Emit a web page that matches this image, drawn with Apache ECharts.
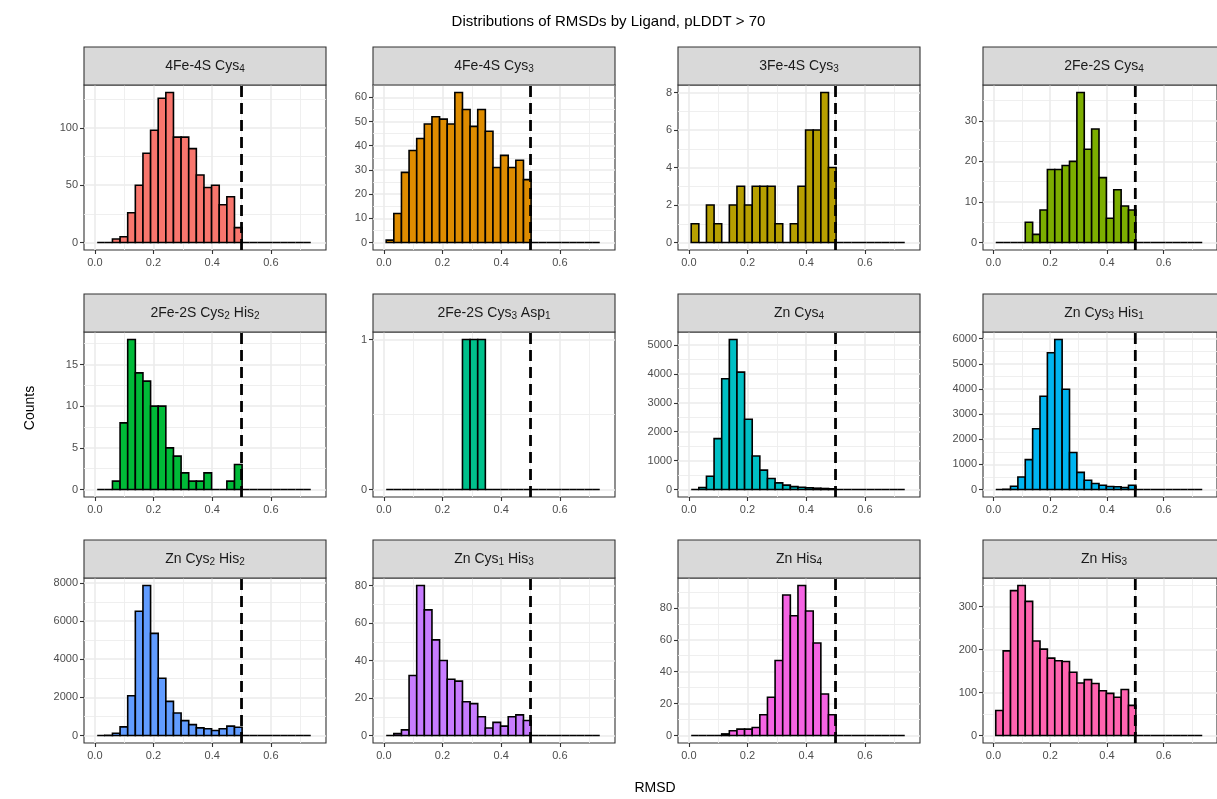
<!DOCTYPE html>
<html><head><meta charset="utf-8">
<script src="https://cdn.jsdelivr.net/npm/echarts@6/dist/echarts.min.js"></script>
<style>html,body{margin:0;padding:0;background:#fff}#chart{width:1217px;height:799px}</style>
</head><body><div id="chart"></div>
<script>
// ---- histogram binning (shared x bins, 28 bins) ----
const BIN_START = 0.008;
const BIN_WIDTH = 0.026;
const RMSD_CUTOFF = 0.5;

const panelTitles = [
  '4Fe-4S Cys{s|4}', '4Fe-4S Cys{s|3}', '3Fe-4S Cys{s|3}', '2Fe-2S Cys{s|4}',
  '2Fe-2S Cys{s|2} His{s|2}', '2Fe-2S Cys{s|3} Asp{s|1}', 'Zn Cys{s|4}', 'Zn Cys{s|3} His{s|1}',
  'Zn Cys{s|2} His{s|2}', 'Zn Cys{s|1} His{s|3}', 'Zn His{s|4}', 'Zn His{s|3}'
];
const panelColors = ['#F8766D','#DE8C00','#B79F00','#7CAE00','#00BA38','#00C08B',
                     '#00BFC4','#00B4F0','#619CFF','#C77CFF','#F564E3','#FF64B0'];

// counts per bin (bins 0..27)
const cnt_4Fe4S_Cys4   = [0,0,3,5,26,50,78,98,126,131,92,92,82,59,48,50,33,40,13,0,0,0,0,0,0,0,0,0];
const cnt_4Fe4S_Cys3   = [1,12,29,38,43,49,52,51,49,62,55,48,55,46,31,36,31,34,26,0,0,0,0,0,0,0,0,0];
const cnt_3Fe4S_Cys3   = [1,0,2,1,0,2,3,2,3,3,3,1,0,1,3,6,6,8,4,0,0,0,0,0,0,0,0,0];
const cnt_2Fe2S_Cys4   = [0,0,0,0,5,2,8,18,18,19,20,37,23,28,16,6,13,9,8,0,0,0,0,0,0,0,0,0];
const cnt_2Fe2S_Cys2His2 = [0,0,1,8,18,14,13,10,10,5,4,2,1,1,2,0,0,1,3,0,0,0,0,0,0,0,0,0];
const cnt_2Fe2S_Cys3Asp1 = [0,0,0,0,0,0,0,0,0,0,1,1,1,0,0,0,0,0,0,0,0,0,0,0,0,0,0,0];
const cnt_Zn_Cys4      = [0,70,460,1760,3830,5190,4060,2430,1160,670,380,230,150,100,80,60,45,35,25,0,0,0,0,0,0,0,0,0];
const cnt_Zn_Cys3His1  = [0,10,130,500,1190,2420,3710,5440,5970,3990,1470,680,370,240,170,120,110,80,170,0,0,0,0,0,0,0,0,0];
const cnt_Zn_Cys2His2  = [0,10,120,450,2080,6510,7860,5350,3000,1790,1180,780,570,400,350,260,350,490,430,0,0,0,0,0,0,0,0,0];
const cnt_Zn_Cys1His3  = [0,1,3,32,80,67,51,40,30,29,18,17,10,4,7,5,10,11,8,0,0,0,0,0,0,0,0,0];
const cnt_Zn_His4      = [0,0,0,0,1,3,4,4,5,13,24,47,88,75,94,78,58,26,13,0,0,0,0,0,0,0,0,0];
const cnt_Zn_His3      = [58,197,337,349,312,220,201,180,174,172,147,122,130,121,104,98,89,107,70,0,0,0,0,0,0,0,0,0];

const panelCounts = [cnt_4Fe4S_Cys4, cnt_4Fe4S_Cys3, cnt_3Fe4S_Cys3, cnt_2Fe2S_Cys4,
  cnt_2Fe2S_Cys2His2, cnt_2Fe2S_Cys3Asp1, cnt_Zn_Cys4, cnt_Zn_Cys3His1,
  cnt_Zn_Cys2His2, cnt_Zn_Cys1His3, cnt_Zn_His4, cnt_Zn_His3];

// tick labels
const xTicks = [0, 0.2, 0.4, 0.6];
const xMinor = [0.1, 0.3, 0.5, 0.7];
const yTicks = [
  [0,50,100], [0,10,20,30,40,50,60], [0,2,4,6,8], [0,10,20,30],
  [0,5,10,15], [0,1], [0,1000,2000,3000,4000,5000], [0,1000,2000,3000,4000,5000,6000],
  [0,2000,4000,6000,8000], [0,20,40,60,80], [0,20,40,60,80], [0,100,200,300]
];
const yMinor = [
  [25,75,125], [5,15,25,35,45,55,65], [1,3,5,7], [5,15,25,35],
  [2.5,7.5,12.5,17.5], [0.5], [500,1500,2500,3500,4500], [500,1500,2500,3500,4500,5500],
  [1000,3000,5000,7000], [10,30,50,70], [10,30,50,70,90], [50,150,250,350]
];

// ---- layout ----
const FONT = 'Liberation Sans, Arial, Helvetica, sans-serif';
const colLeft = [84, 373, 678, 983];
const rowTop = [85, 332, 578];
const PW = 242, PH = 165, STRIP_H = 38;
const X_MIN = -0.037, X_MAX = 0.788;

const grids = [], xAxes = [], yAxes = [], series = [], graphics = [];

panelCounts.forEach((counts, i) => {
  const r = Math.floor(i / 4), c = i % 4;
  const left = colLeft[c], top = rowTop[r];
  const M = Math.max(...counts);
  const yMin = -0.05 * M, yMax = 1.05 * M;
  grids.push({left, top, width: PW, height: PH, show: true, borderColor: '#333', borderWidth: 1.1,
              backgroundColor: '#fff', containLabel: false});
  const baseX = {type: 'value', gridIndex: i, min: X_MIN, max: X_MAX, axisLine: {show: false, onZero: false}};
  xAxes.push(Object.assign({}, baseX, {
    position: 'bottom',
    axisTick: {show: true, inside: false, customValues: xTicks, length: 4, lineStyle: {color: '#333', width: 1.1}},
    axisLabel: {customValues: xTicks, formatter: v => Number(v).toFixed(1), color: '#4D4D4D', fontSize: 11, margin: 7, fontFamily: FONT},
    splitLine: {show: true, lineStyle: {color: '#EBEBEB', width: 1.6}}
  }));
  xAxes.push(Object.assign({}, baseX, {
    position: 'top',
    axisTick: {show: false, customValues: xMinor},
    axisLabel: {show: false, customValues: xMinor},
    splitLine: {show: true, lineStyle: {color: '#EDEDED', width: 0.9}}
  }));
  const baseY = {type: 'value', gridIndex: i, min: yMin, max: yMax, axisLine: {show: false, onZero: false}};
  yAxes.push(Object.assign({}, baseY, {
    position: 'left',
    axisTick: {show: true, inside: false, customValues: yTicks[i], length: 4, lineStyle: {color: '#333', width: 1.1}},
    axisLabel: {customValues: yTicks[i], formatter: v => String(v), color: '#4D4D4D', fontSize: 11, margin: 6, fontFamily: FONT},
    splitLine: {show: true, lineStyle: {color: '#EBEBEB', width: 1.6}}
  }));
  yAxes.push(Object.assign({}, baseY, {
    position: 'right',
    axisTick: {show: false, customValues: yMinor[i]},
    axisLabel: {show: false, customValues: yMinor[i]},
    splitLine: {show: true, lineStyle: {color: '#EDEDED', width: 0.9}}
  }));
  const color = panelColors[i];
  series.push({
    type: 'custom', xAxisIndex: 2 * i, yAxisIndex: 2 * i, z: 3,
    data: counts.map((v, k) => [BIN_START + k * BIN_WIDTH, BIN_START + (k + 1) * BIN_WIDTH, v]),
    encode: {x: [0, 1], y: 2},
    renderItem: (params, api) => {
      const p0 = api.coord([api.value(0), 0]);
      const p1 = api.coord([api.value(1), api.value(2)]);
      return {type: 'rect', shape: {x: p0[0], y: p1[1], width: p1[0] - p0[0], height: p0[1] - p1[1]},
              style: {fill: color, stroke: '#000', lineWidth: 1.6}};
    }
  });
  series.push({
    type: 'line', xAxisIndex: 2 * i, yAxisIndex: 2 * i, z: 5, showSymbol: false, silent: true,
    data: [[RMSD_CUTOFF, yMin], [RMSD_CUTOFF, yMax]],
    lineStyle: {color: '#000', width: 2.8, type: [11, 6]}
  });
  graphics.push({
    type: 'rect', shape: {x: left, y: top - STRIP_H, width: PW, height: STRIP_H},
    style: {fill: '#D9D9D9', stroke: '#333', lineWidth: 1.1}, z: 10
  });
  graphics.push({
    type: 'text', x: left + PW / 2, y: top - STRIP_H / 2, z: 11,
    style: {text: panelTitles[i], align: 'center', verticalAlign: 'middle', fill: '#1A1A1A',
            fontSize: 14, fontFamily: FONT,
            rich: {s: {fontSize: 10, fontFamily: FONT, fill: '#1A1A1A', padding: [7, 0, 0, 0]}}}
  });
});

graphics.push({type: 'text', x: 30, y: 408, rotation: Math.PI / 2,
  style: {text: 'Counts', align: 'center', verticalAlign: 'middle', fontSize: 14, fill: '#000', fontFamily: FONT}});
graphics.push({type: 'text', x: 655, y: 788,
  style: {text: 'RMSD', align: 'center', verticalAlign: 'middle', fontSize: 14, fill: '#000', fontFamily: FONT}});

const chart = echarts.init(document.getElementById('chart'), null, {renderer: 'canvas'});
chart.setOption({
  animation: false,
  backgroundColor: '#fff',
  textStyle: {fontFamily: FONT},
  title: {text: 'Distributions of RMSDs by Ligand, pLDDT > 70', left: 'center', top: 9,
          textStyle: {fontSize: 15, fontWeight: 'normal', color: '#000', fontFamily: FONT}},
  grid: grids, xAxis: xAxes, yAxis: yAxes, series: series, graphic: graphics
});
</script></body></html>
